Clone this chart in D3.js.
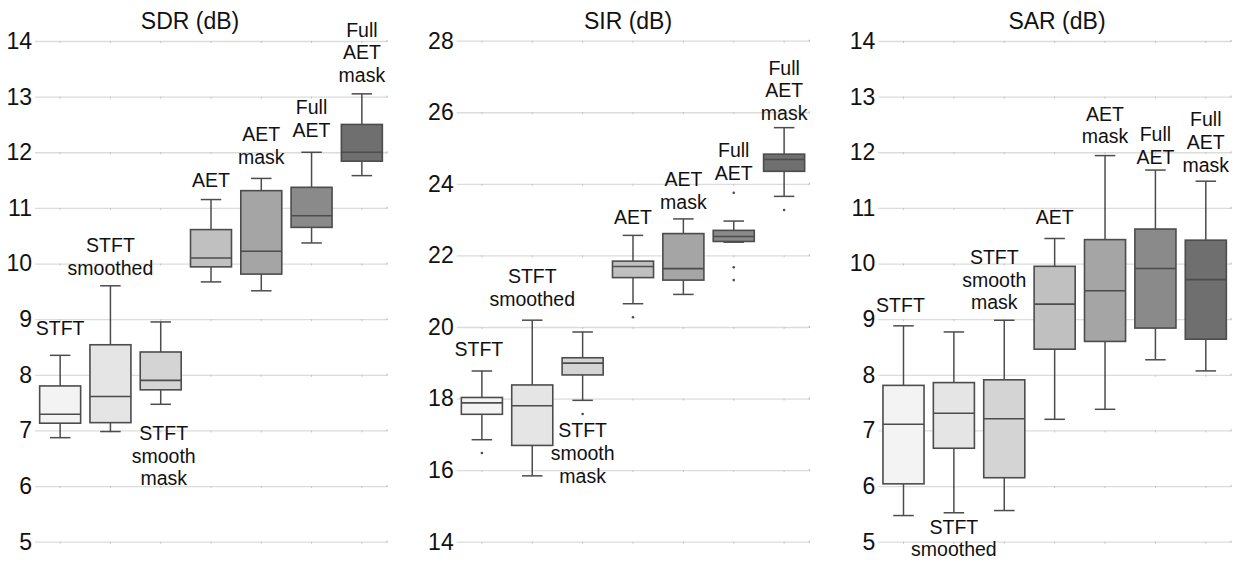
<!DOCTYPE html>
<html>
<head>
<meta charset="utf-8">
<script src="https://cdn.jsdelivr.net/npm/d3@7"></script>
<style>
  html, body { margin: 0; padding: 0; background: #ffffff; }
  svg { display: block; font-family: "Liberation Sans", Arial, Helvetica, sans-serif; }
</style>
</head>
<body>
<svg id="chart" width="1238" height="564"></svg>
<script>
// Methods compared in every panel, left to right
const categories = ["STFT", "STFT smoothed", "STFT smooth mask", "AET", "AET mask", "Full AET", "Full AET mask"];
// Label lines written over or under each box
const labelLines = [["STFT"], ["STFT", "smoothed"], ["STFT", "smooth", "mask"], ["AET"], ["AET", "mask"], ["Full", "AET"], ["Full", "AET", "mask"]];

// Box statistics per method: [lower whisker, Q1, median, Q3, upper whisker]
const sdrStats = [
  [6.87, 7.13, 7.29, 7.80, 8.35],
  [6.98, 7.14, 7.61, 8.54, 9.60],
  [7.47, 7.73, 7.90, 8.41, 8.95],
  [9.67, 9.94, 10.10, 10.61, 11.15],
  [9.51, 9.81, 10.22, 11.31, 11.53],
  [10.37, 10.65, 10.86, 11.37, 12.00],
  [11.58, 11.84, 12.00, 12.50, 13.05]
];
const sdrOutliers = [[], [], [], [], [], [], []];

const sirStats = [
  [16.85, 17.56, 17.88, 18.03, 18.77],
  [15.84, 16.69, 17.80, 18.38, 20.19],
  [17.95, 18.66, 18.99, 19.14, 19.86],
  [20.65, 21.38, 21.69, 21.84, 22.56],
  [20.91, 21.31, 21.63, 22.61, 23.02],
  [22.37, 22.39, 22.53, 22.70, 22.96],
  [23.65, 24.35, 24.68, 24.83, 25.57]
];
const sirOutliers = [[16.48], [], [17.57], [20.27], [], [23.75, 21.67, 21.31], [23.27]];

const sarStats = [
  [5.47, 6.04, 7.11, 7.81, 8.88],
  [5.52, 6.68, 7.31, 7.86, 8.77],
  [5.56, 6.15, 7.21, 7.91, 8.98],
  [7.20, 8.46, 9.27, 9.95, 10.45],
  [7.38, 8.60, 9.51, 10.43, 11.94],
  [8.27, 8.84, 9.91, 10.62, 11.68],
  [8.07, 8.64, 9.71, 10.42, 11.48]
];
const sarOutliers = [[], [], [], [], [], [], []];

// Axis ticks per panel
const sdrTicks = [5, 6, 7, 8, 9, 10, 11, 12, 13, 14];
const sirTicks = [14, 16, 18, 20, 22, 24, 26, 28];
const sarTicks = [5, 6, 7, 8, 9, 10, 11, 12, 13, 14];

const titles = ["SDR (dB)", "SIR (dB)", "SAR (dB)"];

// Styling
const fills = ["#f3f3f3", "#e5e5e5", "#d4d4d4", "#c0c0c0", "#a5a5a5", "#8a8a8a", "#6f6f6f"];
const strokeCol = "#4c4c4c";
const textCol = "#111111";
const lineStep = 22.7;

// Panel layout: plot extent, title placement and label offsets (px)
const panels = [
  { title: titles[0], stats: sdrStats, outliers: sdrOutliers, ticks: sdrTicks,
    x0: 35, x1: 387, yTop: 41, yBot: 541.7, titleX: 190,
    labels: [{ pos: "above", gap: 20.7 }, { pos: "above", gap: 11 }, { pos: "below", gap: 35.7, dx: 3 },
             { pos: "above", gap: 13 }, { pos: "above", gap: 14.7 }, { pos: "above", gap: 15.4 }, { pos: "above", gap: 11.7 }] },
  { title: titles[1], stats: sirStats, outliers: sirOutliers, ticks: sirTicks,
    x0: 456.7, x1: 809.3, yTop: 40.7, yBot: 541.7, titleX: 628,
    labels: [{ pos: "above", gap: 15, dx: -3 }, { pos: "above", gap: 14 }, { pos: "below", gap: 37 },
             { pos: "above", gap: 11 }, { pos: "above", gap: 10.4 }, { pos: "above", gap: 41 }, { pos: "above", gap: 7.7 }] },
  { title: titles[2], stats: sarStats, outliers: sarOutliers, ticks: sarTicks,
    x0: 878.3, x1: 1231, yTop: 41, yBot: 541.7, titleX: 1057,
    labels: [{ pos: "above", gap: 13.7, dx: -3 }, { pos: "below", gap: 21 }, { pos: "above", gap: 11, dx: -10 },
             { pos: "above", gap: 14.4 }, { pos: "above", gap: 12.4 }, { pos: "above", gap: 6.3 }, { pos: "above", gap: 9.6 }] }
];

const svg = d3.select("#chart");

panels.forEach(p => {
  const g = svg.append("g");
  const x = d3.scaleBand().domain(categories).range([p.x0, p.x1]).padding(0);
  const y = d3.scaleLinear().domain(d3.extent(p.ticks)).range([p.yBot, p.yTop]);
  const bw = x.step() * 0.815;
  const cw = bw * 0.5;

  // Gridlines and tick labels
  const axis = d3.axisLeft(y).tickValues(p.ticks).tickFormat(d3.format("d"))
    .tickSize(-(p.x1 - p.x0)).tickPadding(3);
  const ax = g.append("g").attr("transform", `translate(${p.x0},0)`).call(axis);
  ax.select(".domain").remove();
  ax.selectAll(".tick line").attr("stroke", "#dcdcdc").attr("stroke-width", 1.3);
  ax.selectAll(".tick text").attr("fill", textCol).attr("font-size", 23)
    .attr("font-family", "'Liberation Sans', Arial, sans-serif");

  // small category ticks on each gridline
  const marks = g.append("g");
  p.ticks.forEach(t => {
    categories.forEach(c => {
      marks.append("line")
        .attr("x1", x(c) + x.step() / 2).attr("x2", x(c) + x.step() / 2)
        .attr("y1", y(t)).attr("y2", y(t) + 2)
        .attr("stroke", "#c4c4c4").attr("stroke-width", 1);
    });
    marks.append("line")
      .attr("x1", p.x1).attr("x2", p.x1).attr("y1", y(t) - 1).attr("y2", y(t) + 1)
      .attr("stroke", "#b0b0b0").attr("stroke-width", 1);
  });

  // Title
  g.append("text").attr("x", p.titleX).attr("y", 29.3).attr("text-anchor", "middle")
    .attr("font-size", 23).attr("fill", textCol).text(p.title);

  categories.forEach((c, i) => {
    const [lo, q1, med, q3, hi] = p.stats[i];
    const cx = x(c) + x.step() / 2;
    const b = g.append("g");

    // whiskers
    b.append("line").attr("x1", cx).attr("x2", cx).attr("y1", y(hi)).attr("y2", y(q3))
      .attr("stroke", strokeCol).attr("stroke-width", 1.5);
    b.append("line").attr("x1", cx).attr("x2", cx).attr("y1", y(q1)).attr("y2", y(lo))
      .attr("stroke", strokeCol).attr("stroke-width", 1.5);
    b.append("line").attr("x1", cx - cw / 2).attr("x2", cx + cw / 2).attr("y1", y(hi)).attr("y2", y(hi))
      .attr("stroke", strokeCol).attr("stroke-width", 1.5);
    b.append("line").attr("x1", cx - cw / 2).attr("x2", cx + cw / 2).attr("y1", y(lo)).attr("y2", y(lo))
      .attr("stroke", strokeCol).attr("stroke-width", 1.5);

    // box
    b.append("rect").attr("x", cx - bw / 2).attr("y", y(q3)).attr("width", bw)
      .attr("height", y(q1) - y(q3)).attr("fill", fills[i])
      .attr("stroke", strokeCol).attr("stroke-width", 1.6);
    // median
    b.append("line").attr("x1", cx - bw / 2).attr("x2", cx + bw / 2).attr("y1", y(med)).attr("y2", y(med))
      .attr("stroke", strokeCol).attr("stroke-width", 1.6);

    // outliers
    p.outliers[i].forEach(v => {
      b.append("circle").attr("cx", cx).attr("cy", y(v)).attr("r", 1.3).attr("fill", strokeCol);
    });

    // method label
    const L = p.labels[i];
    const lines = labelLines[i];
    const lx = cx + (L.dx || 0);
    let firstBase;
    if (L.pos === "above") {
      firstBase = y(hi) - L.gap - (lines.length - 1) * lineStep;
    } else {
      firstBase = y(lo) + L.gap;
    }
    const t = b.append("text").attr("x", lx).attr("y", firstBase)
      .attr("text-anchor", "middle").attr("font-size", 19.5).attr("fill", textCol);
    lines.forEach((s, k) => {
      t.append("tspan").attr("x", lx).attr("y", firstBase + k * lineStep).text(s);
    });
  });
});
</script>
</body>
</html>
